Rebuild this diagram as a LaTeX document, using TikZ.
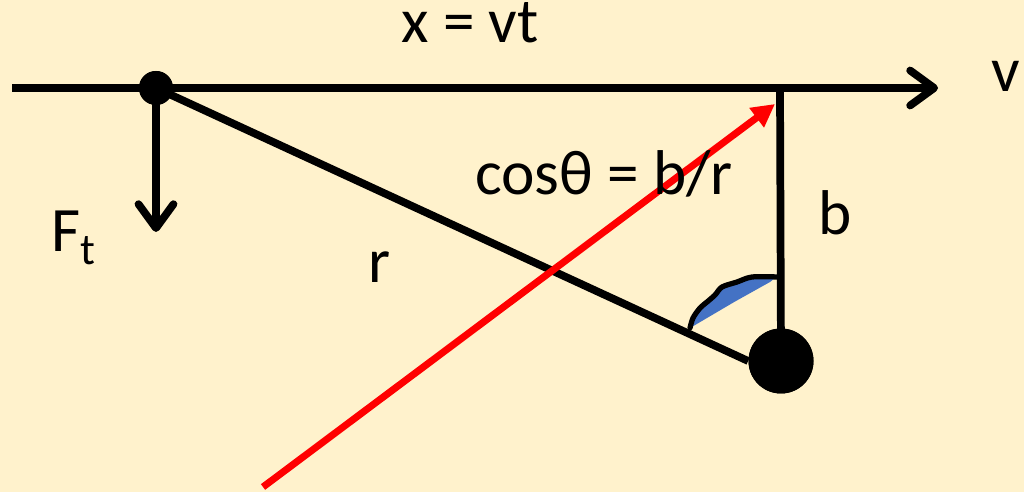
\documentclass[tikz,border=0pt]{standalone}
\usepackage{fontspec}
\setmainfont{Carlito}
\usepackage{tikz}
\usetikzlibrary{arrows.meta}
\definecolor{paper}{RGB}{255,242,204}
\definecolor{rayred}{RGB}{255,0,0}
\definecolor{angleblue}{RGB}{68,114,196}
\tikzset{
  charge/.style={circle,fill=black,minimum size=0.68cm,inner sep=0pt},
  target/.style={circle,fill=black,minimum size=1.3cm,inner sep=0pt},
  rod/.style={line width=4.4pt,black},
  vec/.style={-{Straight Barb[length=4.8mm,width=7mm,round]},line width=4.4pt,black},
  ray/.style={-{Triangle[length=4.6mm,width=4.6mm]},line width=4pt,rayred},
  lbl/.style={font=\fontsize{36}{43}\selectfont,inner sep=0pt,anchor=base west}
}
\begin{document}
\begin{tikzpicture}[x=0.02cm,y=-0.02cm]
  \fill[paper] (0,0) rectangle (1024,492);

  \node[charge] (q) at (156,88) {};
  \node[target] (N) at (781,361) {};
  \coordinate (lstart) at (12,88);
  \coordinate (vtip) at (938,88);
  \coordinate (foot) at (780,88);
  \coordinate (ftip) at (156,232);
  \coordinate (rayS) at (263,487);
  \coordinate (rayE) at (775,104);

  \draw[vec] (lstart) -- (vtip);
  \draw[vec] (q.center) -- (ftip);
  \draw[rod] (q.center) -- (N.west);
  \draw[rod] (foot) -- (N.center);
  \node[target] at (N) {};
  \node[charge] at (q) {};

  % angle theta
  \fill[angleblue] (693,325) -- (770,282) -- (775,278)
    plot[smooth] coordinates {(775,278) (752,277) (737,282) (722,287) (715,295) (707,302) (700,308) (693,318) (690,328)} -- cycle;
  \draw[line width=3pt,line cap=round,black] plot[smooth] coordinates
    {(690,328) (693,318) (700,308) (707,302) (715,295) (722,287) (737,282) (752,277) (778,277)};

  \draw[ray] (rayS) -- (rayE);

  \node[lbl] (xvt) at (401,43) {x = vt};
  \node[lbl] (vlbl) at (991,92) {v};
  \node[lbl] (Ft) at (51,252) {F\textsubscript{t}};
  \node[lbl] (rlbl) at (368,283) {r};
  \node[lbl] (cos) at (475,195) {cosθ = b/r};
  \node[lbl] (blbl) at (818,235) {b};
\end{tikzpicture}
\end{document}
